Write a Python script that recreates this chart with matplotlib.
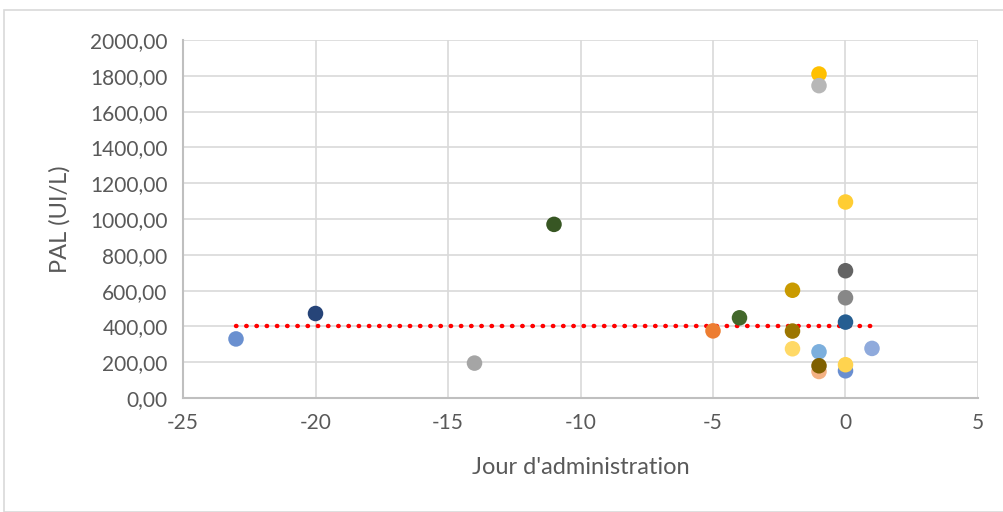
import matplotlib
matplotlib.use("Agg")
import matplotlib.pyplot as plt
from matplotlib.patches import Rectangle
from matplotlib.ticker import FuncFormatter

plt.rcParams["font.family"] = ["Lato", "DejaVu Sans"]
plt.rcParams["axes.unicode_minus"] = False

# jour d'administration, PAL (UI/L), couleur du patient
days = [-23, -20, -14, -11, -5, -4, -2, -2, -2, -1, -1, -1, -1, -1, 0, 0, 0, 0, 0, 0, 1]
pal = [330, 472, 195, 970, 375, 448, 602, 374, 275, 1810, 1745, 258, 148, 180,
       1095, 711, 560, 424, 152, 186, 277]
colors = ["#6A90D0", "#264478", "#A5A5A5", "#375623", "#ED7D31", "#43682B",
          "#C99A00", "#9C7600", "#FFD966", "#FFC000", "#B7B7B7", "#7CAFDD",
          "#F4B183", "#7F6000", "#FFCD33", "#636363", "#878787", "#255E91",
          "#698ED0", "#FFD34F", "#8FAADC"]

ref_x = [-23, 1]
ref_y = [400, 400]

fig = plt.figure(figsize=(10.04, 5.12), dpi=100)
fig.patches.append(Rectangle((4 / 1004, 0), 1.1, 1 - 10 / 512, transform=fig.transFigure,
                             fill=False, edgecolor="#D9D9D9", linewidth=1.2))
ax = fig.add_axes([183 / 1004, 1 - 398 / 512, (978 - 183) / 1004, (398 - 40) / 512])

ax.plot(ref_x, ref_y, color="#FF0000", linestyle=(0, (0.1, 2.2)), linewidth=3.2,
        dash_capstyle="round", zorder=2)
ax.scatter(days, pal, c=colors, s=125, linewidths=0, zorder=3)

ax.set_xlim(-25, 5)
ax.set_ylim(0, 2000)
ax.set_xticks(range(-25, 6, 5))
ax.set_yticks(range(0, 2001, 200))
ax.yaxis.set_major_formatter(FuncFormatter(lambda v, p: f"{v:.2f}".replace(".", ",")))
ax.grid(True, color="#D9D9D9", linewidth=1.2)
ax.set_axisbelow(True)
for s in ("top", "right"):
    ax.spines[s].set_visible(False)
for s in ("left", "bottom"):
    ax.spines[s].set_color("#BFBFBF")
    ax.spines[s].set_linewidth(1.5)
ax.tick_params(length=0, labelsize=15, colors="#595959", pad=11)
ax.set_xlabel("Jour d'administration", fontsize=17, color="#595959", labelpad=17)
ax.set_ylabel("PAL (UI/L)", fontsize=17, color="#595959", labelpad=14)

fig.savefig("out.png", dpi=100)
